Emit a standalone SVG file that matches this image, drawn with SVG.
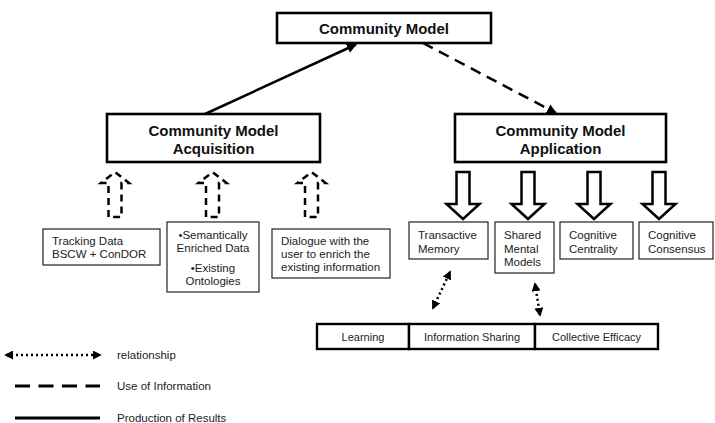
<svg xmlns="http://www.w3.org/2000/svg" width="715" height="423" viewBox="0 0 715 423">
<style>
.main{fill:#fff;stroke:#000;stroke-width:2.6}
.small{fill:#fff;stroke:#222;stroke-width:1.2}
.row{fill:#fff;stroke:#000;stroke-width:2.4}
.tb{font-family:"Liberation Sans",Arial,sans-serif;font-weight:bold;font-size:15px;fill:#111;text-anchor:middle}
.t{font-family:"Liberation Sans",Arial,sans-serif;font-size:11.5px;fill:#222}
.tc{font-family:"Liberation Sans",Arial,sans-serif;font-size:11.5px;fill:#222;text-anchor:middle}
.tr{font-family:"Liberation Sans",Arial,sans-serif;font-size:11px;fill:#222;text-anchor:middle}
.tl{font-family:"Liberation Sans",Arial,sans-serif;font-size:11.5px;fill:#222}
.solid{stroke:#000;stroke-width:2.5;fill:none}
.dash{stroke:#000;stroke-width:2.5;fill:none;stroke-dasharray:11 7}
.dot{stroke:#000;stroke-width:2.5;fill:none;stroke-dasharray:2 3}
.blk{fill:#fff;stroke:#000;stroke-width:2.5;stroke-linejoin:miter}
.dblk{fill:none;stroke:#000;stroke-width:2.5;stroke-dasharray:7 5}
</style>
<defs>
<marker id="ah" viewBox="0 0 10 10" refX="9" refY="5" markerWidth="4" markerHeight="4" orient="auto-start-reverse" markerUnits="strokeWidth">
<path d="M0,0 L10,5 L0,10 z" fill="#000"/>
</marker>
<marker id="dh" viewBox="0 0 10 10" refX="8" refY="5" markerWidth="3.6" markerHeight="3.6" orient="auto-start-reverse" markerUnits="strokeWidth">
<path d="M0,0 L10,5 L0,10 z" fill="#000"/>
</marker>
</defs>

<g id="node-community-model">
<rect class="main" x="277" y="13" width="214" height="30"/>
<text class="tb" x="384" y="33.5">Community Model</text>
</g>
<g id="node-acquisition">
<rect class="main" x="107" y="114" width="213" height="48"/>
<text class="tb" x="213.5" y="135.5">Community Model</text>
<text class="tb" x="213.5" y="153.5">Acquisition</text>
</g>
<g id="node-application">
<rect class="main" x="455" y="114" width="211" height="48"/>
<text class="tb" x="560.5" y="135.5">Community Model</text>
<text class="tb" x="560.5" y="153.5">Application</text>
</g>

<g id="node-tracking">
<rect class="small" x="43" y="229" width="117" height="36"/>
<text class="t" x="52" y="245">Tracking Data</text>
<text class="t" x="52" y="258">BSCW + ConDOR</text>
</g>
<g id="node-semantic">
<rect class="small" x="167" y="222" width="92" height="70"/>
<text class="tc" x="213" y="239">•Semantically</text>
<text class="tc" x="213" y="252">Enriched Data</text>
<text class="tc" x="213" y="272">•Existing</text>
<text class="tc" x="213" y="285">Ontologies</text>
</g>
<g id="node-dialogue">
<rect class="small" x="272" y="229" width="118" height="49"/>
<text class="t" x="281" y="245">Dialogue with the</text>
<text class="t" x="281" y="258">user to enrich the</text>
<text class="t" x="281" y="271">existing information</text>
</g>

<g id="node-transactive">
<rect class="small" x="409" y="222" width="79" height="37"/>
<text class="t" x="418" y="239">Transactive</text>
<text class="t" x="418" y="253">Memory</text>
</g>
<g id="node-shared">
<rect class="small" x="495" y="222" width="59" height="51"/>
<text class="t" x="504" y="239">Shared</text>
<text class="t" x="504" y="253">Mental</text>
<text class="t" x="504" y="266">Models</text>
</g>
<g id="node-centrality">
<rect class="small" x="560" y="222" width="73" height="37"/>
<text class="t" x="569" y="239">Cognitive</text>
<text class="t" x="569" y="253">Centrality</text>
</g>
<g id="node-consensus">
<rect class="small" x="639" y="222" width="74" height="37"/>
<text class="t" x="648" y="239">Cognitive</text>
<text class="t" x="648" y="253">Consensus</text>
</g>

<g id="node-learning">
<rect class="row" x="317" y="324" width="92" height="25"/>
<text class="tr" x="363" y="341">Learning</text>
</g>
<g id="node-info-sharing">
<rect class="row" x="409" y="324" width="126" height="25"/>
<text class="tr" x="472" y="341">Information Sharing</text>
</g>
<g id="node-efficacy">
<rect class="row" x="535" y="324" width="123" height="25"/>
<text class="tr" x="596.5" y="341">Collective Efficacy</text>
</g>

<g id="connectors">
<line class="solid" x1="205" y1="114" x2="356" y2="44.5" marker-end="url(#ah)"/>
<line class="dash" x1="423" y1="43" x2="556" y2="113" marker-end="url(#ah)"/>

<path class="dblk" d="M108.5,217 L108.5,183 L101,183 L115,172 L129,183 L121.5,183 L121.5,217 Z"/>
<path class="dblk" d="M206,217 L206,183 L198.5,183 L212.5,172 L226.5,183 L219,183 L219,217 Z"/>
<path class="dblk" d="M305,217 L305,183 L297.5,183 L311.5,172 L325.5,183 L318,183 L318,217 Z"/>

<path class="blk" d="M456.5,172 L469.5,172 L469.5,204 L479.5,204 L463,219 L446.5,204 L456.5,204 Z"/>
<path class="blk" d="M521.5,172 L534.5,172 L534.5,204 L544.5,204 L528,219 L511.5,204 L521.5,204 Z"/>
<path class="blk" d="M587.5,172 L600.5,172 L600.5,204 L610.5,204 L594,219 L577.5,204 L587.5,204 Z"/>
<path class="blk" d="M652.5,172 L665.5,172 L665.5,204 L675.5,204 L659,219 L642.5,204 L652.5,204 Z"/>

<line class="dot" x1="433" y1="308" x2="450" y2="272" marker-start="url(#dh)" marker-end="url(#dh)"/>
<line class="dot" x1="535" y1="284" x2="540" y2="315" marker-start="url(#dh)" marker-end="url(#dh)"/>
</g>

<g id="legend">
<line class="dot" x1="6" y1="355" x2="100" y2="355" marker-start="url(#dh)" marker-end="url(#dh)"/>
<text class="tl" x="117" y="359">relationship</text>
<line class="dash" x1="15" y1="386" x2="100" y2="386" style="stroke-dasharray:15 8.5;stroke-width:3"/>
<text class="tl" x="117" y="390">Use of Information</text>
<line class="solid" x1="15" y1="418" x2="100" y2="418" style="stroke-width:3"/>
<text class="tl" x="117" y="422">Production of Results</text>
</g>
</svg>
